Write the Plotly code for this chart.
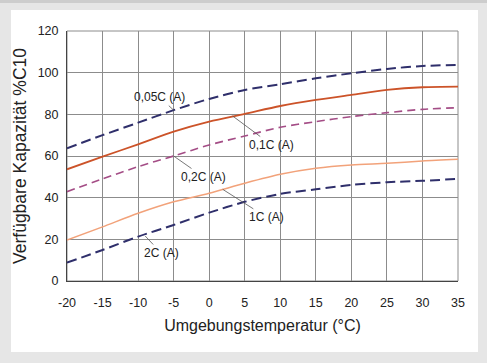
import plotly.graph_objects as go

temps = [-20, -15, -10, -5, 0, 5, 10, 15, 20, 25, 30, 35]
cap_005C = [63.7, 70, 76, 82, 87.4, 91.7, 94.4, 97.3, 99.7, 101.8, 103.2, 103.7]
cap_01C = [53.6, 59.7, 65.6, 71.7, 76.5, 80.2, 84, 86.9, 89.3, 91.7, 93, 93.3]
cap_02C = [42.9, 49, 54.9, 60, 65.3, 69.6, 73.8, 76.5, 78.9, 80.8, 82.4, 83.2]
cap_1C = [19.7, 26, 32.5, 38, 42.1, 46.9, 51.2, 54.1, 55.7, 56.5, 57.6, 58.4]
cap_2C = [8.8, 14.9, 21.3, 26.9, 32.8, 38, 41.8, 44, 46.1, 47.4, 48.1, 49]

labels = ["0,05C (A)", "0,1C (A)", "0,2C (A)", "1C (A)", "2C (A)"]
label_x = [-5, 3.3, -5, 1.9, -9]
label_y = [82, 79.2, 60, 44, 21.6]
label_ax = [-14, 39, 30, 44, 16]
label_ay = [-13, 29, 21, 28, 17]

x_ticks = list(range(-20, 36, 5))
x_ticktext = [str(v) for v in x_ticks]
y_ticks = list(range(0, 121, 20))
y_ticktext = [str(v) for v in y_ticks]

series = [
    (cap_005C, "#2f2f6b", 2, "10px,5px"),
    (cap_01C, "#cc5329", 1.8, "solid"),
    (cap_02C, "#a44d86", 1.6, "8px,5px"),
    (cap_1C, "#f2a27a", 1.5, "solid"),
    (cap_2C, "#2f2f6b", 2, "10px,5px"),
]

FONT = "Liberation Sans, Arial"

fig = go.Figure()
for (vals, col, w, dash), name in zip(series, labels):
    fig.add_trace(go.Scatter(x=temps, y=vals, mode="lines", name=name,
                             line=dict(color=col, width=w, dash=dash, shape="spline", smoothing=0.8),
                             showlegend=False))

for t, x, y, ax, ay in zip(labels, label_x, label_y, label_ax, label_ay):
    fig.add_annotation(x=x, y=y, text=t, showarrow=True, arrowhead=0, arrowwidth=0.8,
                       arrowcolor="#555555", ax=ax, ay=ay,
                       font=dict(family=FONT, size=12, color="#222222"))

# white panel and top strip
fig.add_shape(type="rect", xref="paper", yref="paper", x0=-0.1432, x1=1.0512, y0=-0.284, y1=1.084,
              fillcolor="white", line=dict(width=0), layer="below")
fig.add_shape(type="rect", xref="paper", yref="paper", x0=-0.2, x1=1.1, y0=1.112, y1=1.2,
              fillcolor="#cdcdcd", line=dict(width=0), layer="below")

axis_common = dict(showgrid=True, gridcolor="#8c8c8c", gridwidth=1, zeroline=False,
                   showline=True, linecolor="#444444", linewidth=1, mirror=False,
                   ticks="", tickfont=dict(family=FONT, size=12.5, color="#222222"))

fig.update_xaxes(range=[-20, 35], tickvals=x_ticks, ticktext=x_ticktext, ticklabelstandoff=10,
                 title=dict(text="Umgebungstemperatur (°C)", standoff=10,
                            font=dict(family=FONT, size=16, color="#222222")),
                 **axis_common)
fig.update_yaxes(range=[0, 120], tickvals=y_ticks, ticktext=y_ticktext, ticklabelstandoff=5,
                 title=dict(text="Verfügbare Kapazität %C10", standoff=6,
                            font=dict(family=FONT, size=17.5, color="#222222")),
                 **axis_common)

# frame top/right
fig.add_shape(type="rect", xref="paper", yref="paper", x0=0, x1=1, y0=0, y1=1,
              line=dict(color="#8c8c8c", width=1), layer="below")

fig.update_layout(width=487, height=363, margin=dict(l=67, r=29, t=31, b=82),
                  paper_bgcolor="#e6e6e6", plot_bgcolor="white")

fig.write_html("out.html")
